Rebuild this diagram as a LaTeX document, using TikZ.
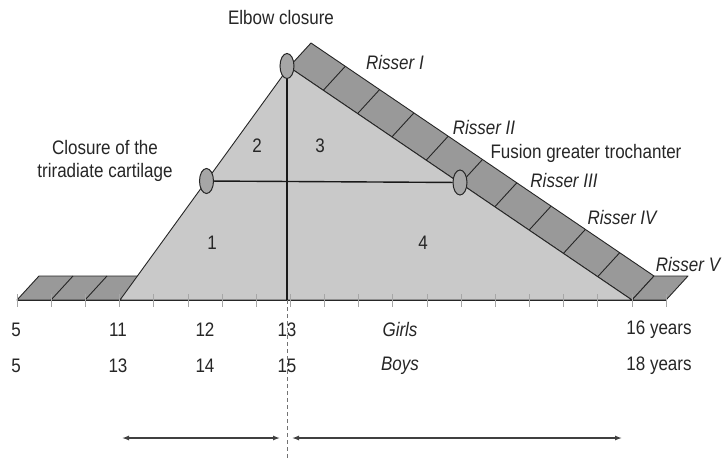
\documentclass[tikz,border=0pt]{standalone}
\usepackage{fontspec}
\setmainfont{Liberation Sans}
\usepackage{graphicx}
\usetikzlibrary{arrows.meta,shapes.geometric}
\newcommand{\vs}[1]{\scalebox{1}[1.15]{#1}}
\begin{document}
\begin{tikzpicture}[x=1pt,y=-1pt,
  lbl/.style={font=\fontsize{17}{19}\selectfont, text=black!85, inner sep=0pt},
  ilbl/.style={font=\fontsize{17}{19}\selectfont\itshape, text=black!85, inner sep=0pt},
  outline/.style={draw=black!85, line width=0.9pt, line join=round},
  tri/.style={outline, fill=black!21},
  bandbox/.style={outline, fill=black!40},
  divider/.style={draw=black!85, line width=0.9pt},
  joint/.style={ellipse, draw=black!85, line width=1pt, fill=black!35, minimum width=14pt, minimum height=25pt, inner sep=0pt},
  tickmark/.style={draw=black!35, line width=0.6pt},
  axisline/.style={draw=black!90, line width=1.4pt},
  spanarrow/.style={draw=black!75, line width=1.3pt, {Latex[length=7pt,width=5pt]}-{Latex[length=7pt,width=5pt]}},
]
\useasboundingbox (0,0) rectangle (724,461);
\fill[white] (0,0) rectangle (724,461);

% left platform (before puberty)
\draw[bandbox] (17,300) -- (120,300) -- (142,276) -- (39,276) -- cycle;
\foreach \x in {51,85} \draw[divider] (\x,300) -- ++(22,-24);

% Risser band
\draw[bandbox] (289,67) -- (632,300) -- (654,276) -- (311,43) -- cycle;
\foreach \k in {1,...,9} \draw[divider] ({289+34.3*\k},{67+23.3*\k}) -- ++(22,-24);

% Risser V platform
\draw[bandbox] (632,300) -- (666,300) -- (688,276) -- (654,276) -- cycle;

% main triangle
\draw[tri] (120,300) -- (289,67) -- (632,300) -- cycle;

% baseline and ticks
\draw[outline] (17,300) -- (666,300);
\foreach \i in {0,...,19} \draw[tickmark] ({17+34.16*\i},294) -- ({17+34.16*\i},307);

% joints
\node[joint] (E) at (287,66) {};
\node[joint] (T) at (206.5,181) {};
\node[joint] (F) at (460,182.5) {};
\coordinate (base13) at (287,300);
\draw[axisline] (E) -- (base13);
\draw[axisline] (T) -- (F);

% dashed divider
\coordinate (dtop) at (287,300);
\coordinate (dbot) at (287,461);
\draw[draw=black!55, line width=0.8pt, dash pattern=on 4pt off 3pt] (dtop) -- (dbot);

% span arrows
\coordinate (a1) at (122,438);
\coordinate (a2) at (280,438);
\coordinate (a3) at (292,438);
\coordinate (a4) at (622,438);
\draw[spanarrow] (a1) -- (a2);
\draw[spanarrow] (a3) -- (a4);

% labels
\node[lbl] (elbow) at (281,18) {\vs{Elbow closure}};
\node[lbl] (trirad) at (105,162) {\vs{\begin{tabular}{@{}c@{}}Closure of the\\[1pt]triradiate cartilage\end{tabular}}};
\node[lbl] (fusion) at (586,153) {\vs{Fusion greater trochanter}};
\node[ilbl] (r1) at (395,63) {\vs{Risser I}};
\node[ilbl] (r2) at (484,128) {\vs{Risser II}};
\node[ilbl] (r3) at (564,181) {\vs{Risser III}};
\node[ilbl] (r4) at (622,218) {\vs{Risser IV}};
\node[ilbl] (r5) at (688,265) {\vs{Risser V}};

\node[lbl] (z1) at (212,243) {\vs{1}};
\node[lbl] (z2) at (257,146) {\vs{2}};
\node[lbl] (z3) at (320,146) {\vs{3}};
\node[lbl] (z4) at (423,243) {\vs{4}};

\node[lbl] (g5) at (16,330) {\vs{5}};
\node[lbl] (g11) at (118,330) {\vs{11}};
\node[lbl] (g12) at (205,330) {\vs{12}};
\node[lbl] (g13) at (287,330) {\vs{13}};
\node[ilbl] (girls) at (400,330) {\vs{Girls}};
\node[lbl] (g16) at (659,330) {\vs{16 years}};

\node[lbl] (b5) at (16,366) {\vs{5}};
\node[lbl] (b13) at (118,366) {\vs{13}};
\node[lbl] (b14) at (205,366) {\vs{14}};
\node[lbl] (b15) at (287,366) {\vs{15}};
\node[ilbl] (boys) at (400,366) {\vs{Boys}};
\node[lbl] (b18) at (659,366) {\vs{18 years}};
\end{tikzpicture}
\end{document}
